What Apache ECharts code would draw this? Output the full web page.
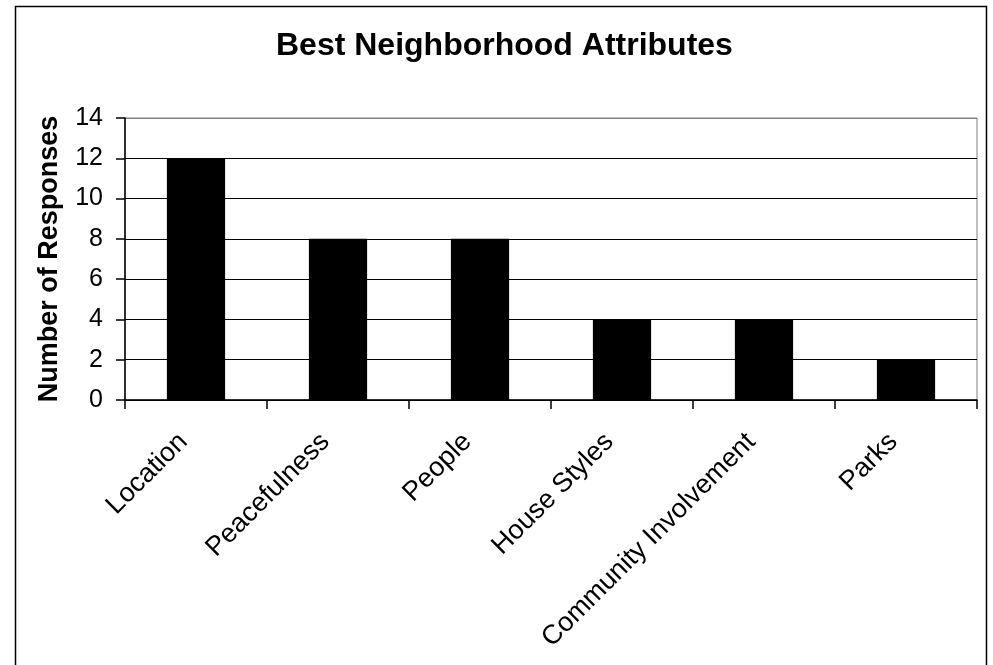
<!DOCTYPE html>
<html>
<head>
<meta charset="utf-8">
<script src="https://cdn.jsdelivr.net/npm/echarts@6/dist/echarts.min.js"></script>
<style>
html,body{margin:0;padding:0;background:#fff;}
#chart{width:993px;height:665px;}
</style>
</head>
<body>
<div id="chart"></div>
<script>
const categories = ['Location', 'Peacefulness', 'People', 'House Styles', 'Community Involvement', 'Parks'];
const responses = [12, 8, 8, 4, 4, 2];
const titleText = 'Best Neighborhood Attributes';
const yAxisTitle = 'Number of Responses';

const FONT = '"Liberation Sans", Arial, sans-serif';
const chart = echarts.init(document.getElementById('chart'), null, {renderer: 'canvas'});
chart.setOption({
  backgroundColor: '#fff',
  animation: false,
  title: {
    text: titleText,
    left: 271,
    top: 25,
    textStyle: {fontFamily: FONT, fontSize: 32, fontWeight: 'bold', color: '#000'}
  },
  grid: {
    left: 125, right: 16, top: 118, bottom: 265,
    show: true, borderColor: '#808080', borderWidth: 1, backgroundColor: 'transparent'
  },
  graphic: [{
    type: 'rect',
    shape: {x: 15.5, y: 6.5, width: 971, height: 700},
    style: {fill: 'none', stroke: '#000', lineWidth: 1.5},
    silent: true, z: 100
  }],
  xAxis: {
    type: 'category',
    data: categories,
    axisLine: {show: true, lineStyle: {color: '#000', width: 1.5}},
    axisTick: {show: true, length: 9, inside: false, lineStyle: {color: '#000', width: 1.5}},
    axisLabel: {
      rotate: 45, interval: 0, margin: 25, padding: [0, 18, 0, 0],
      fontFamily: FONT, fontSize: 27, color: '#000'
    },
    splitLine: {show: false}
  },
  yAxis: {
    type: 'value',
    min: 0, max: 14, interval: 2,
    name: yAxisTitle,
    nameLocation: 'middle',
    nameGap: 62,
    nameTextStyle: {fontFamily: FONT, fontSize: 27, fontWeight: 'bold', color: '#000'},
    axisLine: {show: true, lineStyle: {color: '#000', width: 1.5}},
    axisTick: {show: true, length: 9, lineStyle: {color: '#000', width: 1.5}},
    axisLabel: {margin: 22, fontFamily: FONT, fontSize: 25, color: '#000'},
    splitLine: {show: true, lineStyle: {color: ['#000','#000','#000','#000','#000','#000','#000','#808080'], width: 1.2}}
  },
  series: [{
    type: 'bar',
    data: responses,
    barWidth: '41%',
    itemStyle: {color: '#000'}
  }]
});
</script>
</body>
</html>
